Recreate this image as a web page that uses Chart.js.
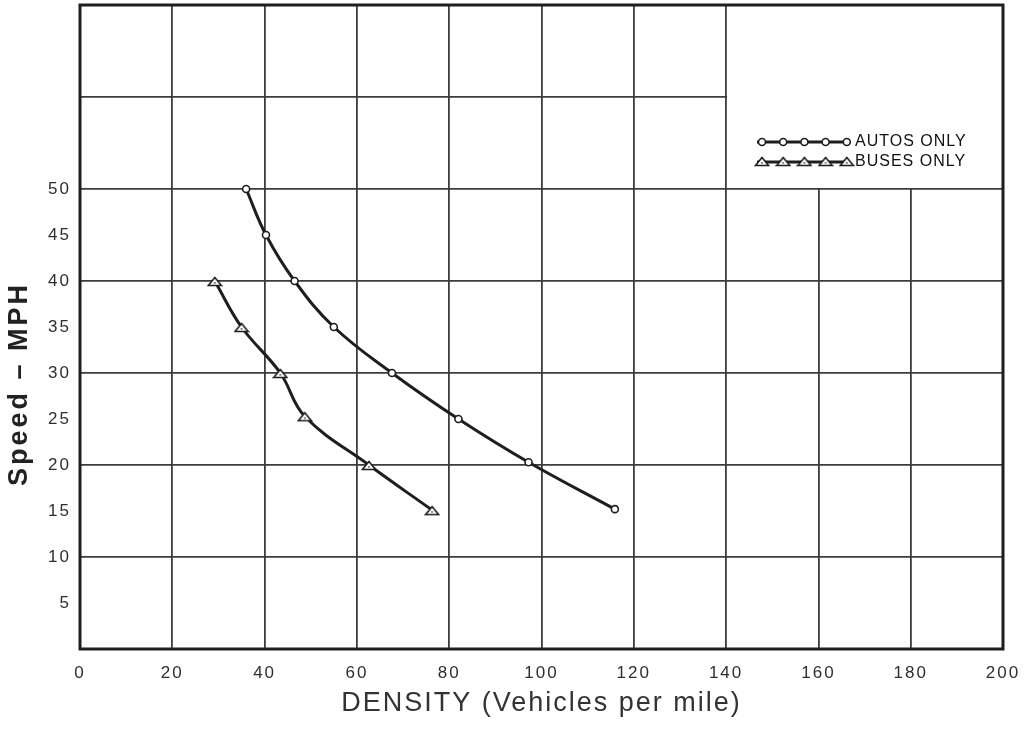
<!DOCTYPE html>
<html>
<head>
<meta charset="utf-8">
<script src="https://cdn.jsdelivr.net/npm/chart.js@4.4.1/dist/chart.umd.min.js"></script>
<style>
  html, body { margin: 0; padding: 0; background: #fff; }
  #wrap { width: 1030px; height: 732px; }
</style>
</head>
<body>
<div id="wrap"><canvas id="chart"></canvas></div>
<script>
// values
const autoDensity = [36, 40.3, 46.5, 55, 67.6, 82, 97.2, 115.9];
const autoSpeed   = [50, 45, 40, 35, 30, 25, 20.3, 15.2];
const busDensity  = [29.2, 35, 43.4, 48.7, 62.6, 76.3];
const busSpeed    = [40, 35, 30, 25.3, 20, 15.1];

const xTicks = [0, 20, 40, 60, 80, 100, 120, 140, 160, 180, 200];
const yTickLabels = [5, 10, 15, 20, 25, 30, 35, 40, 45, 50];
const seriesNames = ['AUTOS ONLY', 'BUSES ONLY'];
const xTitle = 'DENSITY (Vehicles per mile)';
const yTitle = 'Speed \u2013 MPH';

const INK = '#1e1e1e';
const GRID = '#3c3c3c';

function triangleMark() {
  const c = document.createElement('canvas');
  c.width = 16; c.height = 12;
  const g = c.getContext('2d');
  g.beginPath();
  g.moveTo(1.5, 10.5); g.lineTo(14.5, 10.5); g.lineTo(8, 2.5); g.closePath();
  g.fillStyle = '#fff'; g.fill();
  g.lineWidth = 1.6; g.strokeStyle = INK; g.stroke();
  g.fillStyle = INK; g.fillRect(7.3, 7.2, 1.4, 1.4);
  return c;
}
const tri = triangleMark();

function pairs(xs, ys) {
  return xs.map((x, i) => ({ x: x, y: ys[i] }));
}

// white panel behind the key, frame, key and y title
const paperPlugin = {
  id: 'paper',
  beforeInit(chart) { chart.ctx.letterSpacing = '2px'; },
  beforeDraw(chart) { chart.ctx.letterSpacing = '2px'; },
  beforeDatasetsDraw(chart) {
    const {ctx, chartArea: ca, scales} = chart;
    const x = scales.x, y = scales.y;
    ctx.save();
    ctx.fillStyle = '#fff';
    const x140 = x.getPixelForValue(140);
    const y50 = y.getPixelForValue(50);
    ctx.fillRect(x140 + 1, ca.top, ca.right - x140 - 1, y50 - ca.top - 1);
    ctx.lineWidth = 3;
    ctx.strokeStyle = INK;
    ctx.strokeRect(ca.left, ca.top, ca.right - ca.left, ca.bottom - ca.top);
    ctx.restore();
  },
  afterDatasetsDraw(chart) {
    const {ctx, chartArea: ca, scales} = chart;
    ctx.save();
    // key
    const x0 = ca.right - 246, x1 = ca.right - 154;
    const rows = [ca.top + 137, ca.top + 157];
    chart.data.datasets.forEach((ds, i) => {
      const yy = rows[i];
      ctx.lineWidth = 3;
      ctx.strokeStyle = INK;
      ctx.beginPath(); ctx.moveTo(x0, yy); ctx.lineTo(x1, yy); ctx.stroke();
      for (let k = 0; k < 5; k++) {
        const px = x0 + 5 + k * 21.2;
        if (ds.pointStyle === 'circle') {
          ctx.beginPath(); ctx.arc(px, yy, 3.5, 0, Math.PI * 2);
          ctx.fillStyle = '#fff'; ctx.fill();
          ctx.lineWidth = 1.6; ctx.stroke();
        } else {
          ctx.drawImage(tri, px - 8, yy - 7);
        }
      }
      ctx.letterSpacing = '1px';
      ctx.fillStyle = '#111';
      ctx.font = '16px "Liberation Sans", Arial, sans-serif';
      ctx.textAlign = 'left';
      ctx.textBaseline = 'middle';
      ctx.fillText(ds.label, x1 + 6, yy);
    });
    // y title
    ctx.letterSpacing = '3px';
    ctx.translate(20, scales.y.getPixelForValue(28.8));
    ctx.rotate(-Math.PI / 2);
    ctx.font = 'bold 27px "Liberation Sans", Arial, sans-serif';
    ctx.fillStyle = '#222';
    ctx.textAlign = 'center';
    ctx.textBaseline = 'middle';
    ctx.fillText(yTitle, 0, 0);
    ctx.restore();
  }
};

new Chart(document.getElementById('chart'), {
  type: 'line',
  data: {
    datasets: [{
      label: seriesNames[0],
      data: pairs(autoDensity, autoSpeed),
      borderColor: INK,
      borderWidth: 3,
      tension: 0.4,
      pointStyle: 'circle',
      pointRadius: 3.5,
      pointBorderWidth: 1.6,
      pointBackgroundColor: '#fff',
      pointBorderColor: INK,
      fill: false
    }, {
      label: seriesNames[1],
      data: pairs(busDensity, busSpeed),
      borderColor: INK,
      borderWidth: 3,
      tension: 0.4,
      pointStyle: tri,
      pointRadius: 6,
      fill: false
    }]
  },
  options: {
    responsive: true,
    maintainAspectRatio: false,
    animation: false,
    layout: { autoPadding: false, padding: { top: 5, right: 27, left: 0, bottom: 0 } },
    plugins: { legend: { display: false }, tooltip: { enabled: false } },
    scales: {
      x: {
        type: 'linear',
        min: 0, max: 200,
        afterBuildTicks: (s) => { s.ticks = xTicks.map(v => ({ value: v })); },
        afterFit: (s) => { s.height = 83; s.paddingLeft = 0; s.paddingRight = 0; },
        grid: { color: GRID, lineWidth: 1.8, drawTicks: false },
        border: { display: false },
        ticks: {
          padding: 14,
          color: '#2e2e2e',
          font: { family: '"Liberation Sans", Arial, sans-serif', size: 17 }
        },
        title: {
          display: true,
          text: xTitle,
          color: '#333',
          padding: { top: 0, bottom: 12 },
          font: { family: '"Liberation Sans", Arial, sans-serif', size: 27 }
        }
      },
      y: {
        type: 'linear',
        min: 0, max: 70,
        afterFit: (s) => { s.width = 80; s.paddingTop = 0; s.paddingBottom = 0; },
        grid: {
          color: (c) => (c.tick && c.tick.value % 10 === 0) ? GRID : 'rgba(0,0,0,0)',
          lineWidth: 1.8,
          drawTicks: false
        },
        border: { display: false },
        ticks: {
          stepSize: 5,
          padding: 9,
          color: '#2e2e2e',
          font: { family: '"Liberation Sans", Arial, sans-serif', size: 17 },
          callback: (v) => yTickLabels.includes(v) ? String(v) : ''
        }
      }
    }
  },
  plugins: [paperPlugin]
});
</script>
</body>
</html>
